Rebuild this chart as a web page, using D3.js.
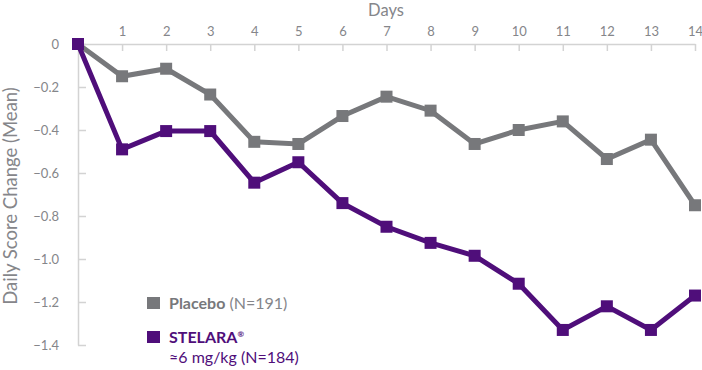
<!DOCTYPE html>
<html>
<head>
<meta charset="utf-8">
<script src="https://cdn.jsdelivr.net/npm/d3@7"></script>
<style>
  body { margin: 0; background: #fff; }
  text { font-family: Lato, "Open Sans", sans-serif; }
</style>
</head>
<body>
<script>
// days 0..14, mean change in daily score
var days = [0, 1, 2, 3, 4, 5, 6, 7, 8, 9, 10, 11, 12, 13, 14];
var placebo = [0, -0.15, -0.115, -0.235, -0.455, -0.465, -0.335, -0.245, -0.31, -0.465, -0.4, -0.36, -0.535, -0.445, -0.75];
var stelara = [0, -0.49, -0.405, -0.405, -0.645, -0.55, -0.74, -0.85, -0.925, -0.985, -1.115, -1.33, -1.22, -1.33, -1.17];
var yTicks = [0, -0.2, -0.4, -0.6, -0.8, -1.0, -1.2, -1.4];

var W = 702, H = 370;
var gray = '#77787b', purple = '#4f0e7a', axisCol = '#d3d3d3', txtCol = '#85868a';

var svg = d3.select('body').append('svg')
  .attr('width', W)
  .attr('height', H);

var x = d3.scaleLinear().domain([0, 14]).range([78, 695]);
var y = d3.scaleLinear().domain([0, -1.4]).range([44, 345]);

// top x axis
var xAxis = svg.append('g')
  .attr('transform', 'translate(0,44)')
  .call(d3.axisTop(x).tickValues(days.slice(1)).tickSizeInner(-7).tickSizeOuter(0).tickPadding(8));
xAxis.select('.domain').attr('stroke', axisCol).attr('stroke-width', 1.5);
xAxis.selectAll('.tick line').attr('stroke', axisCol).attr('stroke-width', 1.5);
xAxis.selectAll('.tick text')
  .attr('fill', txtCol)
  .style('font-size', '13px')
  .style('font-family', 'Lato, sans-serif');

// left y axis, ticks point inwards
var yAxis = svg.append('g')
  .attr('transform', 'translate(78,0)')
  .call(d3.axisLeft(y).tickValues(yTicks).tickSizeInner(-8).tickSizeOuter(0).tickPadding(19)
    .tickFormat(function(d){ return d === 0 ? '0' : d3.format('.1f')(d).replace('-', '\u2212'); }));
yAxis.select('.domain').attr('stroke', axisCol).attr('stroke-width', 1.5);
yAxis.selectAll('.tick line').attr('stroke', axisCol).attr('stroke-width', 1.5);
yAxis.selectAll('.tick text')
  .attr('fill', txtCol)
  .style('font-size', '13px')
  .style('font-family', 'Lato, sans-serif');

svg.append('text')
  .attr('x', 386).attr('y', 16)
  .attr('text-anchor', 'middle')
  .attr('fill', txtCol)
  .style('font-size', '16.5px')
  .text('Days');

svg.append('text')
  .attr('transform', 'translate(17,196) rotate(-90)')
  .attr('text-anchor', 'middle')
  .attr('fill', txtCol)
  .style('font-size', '18.5px')
  .text('Daily Score Change (Mean)');

var line = d3.line()
  .x(function(d, i){ return x(days[i]); })
  .y(function(d){ return y(d); });

var series = [
  {name: 'placebo', vals: placebo, color: gray},
  {name: 'stelara', vals: stelara, color: purple}
];

series.forEach(function(s){
  svg.append('path')
    .datum(s.vals)
    .attr('fill', 'none')
    .attr('stroke', s.color)
    .attr('stroke-width', 5)
    .attr('stroke-linejoin', 'miter')
    .attr('d', line);

  svg.selectAll('rect.' + s.name)
    .data(s.vals)
    .enter().append('rect')
    .attr('class', s.name)
    .attr('x', function(d, i){ return x(days[i]) - 6; })
    .attr('y', function(d){ return y(d) - 6; })
    .attr('width', 12)
    .attr('height', 12)
    .attr('fill', s.color);
});

// legend
var leg = svg.append('g');
leg.append('rect').attr('x', 147).attr('y', 297).attr('width', 13).attr('height', 12).attr('fill', gray);
var t1 = leg.append('text').attr('x', 169).attr('y', 309).style('font-size', '16px').attr('fill', gray);
t1.append('tspan').style('font-weight', 'bold').text('Placebo');
t1.append('tspan').attr('fill', txtCol).text(' (N=191)');

leg.append('rect').attr('x', 147).attr('y', 331).attr('width', 13).attr('height', 12).attr('fill', purple);
var t2 = leg.append('text').attr('x', 169).attr('y', 343).style('font-size', '16px').attr('fill', purple);
t2.append('tspan').style('font-weight', 'bold').text('STELARA');
t2.append('tspan').style('font-weight', 'bold').style('font-size', '8px').attr('dy', -6).text('®');
leg.append('text').attr('x', 169).attr('y', 363).style('font-size', '16px').attr('fill', purple)
  .text('\u22486 mg/kg (N=184)');
</script>
</body>
</html>
